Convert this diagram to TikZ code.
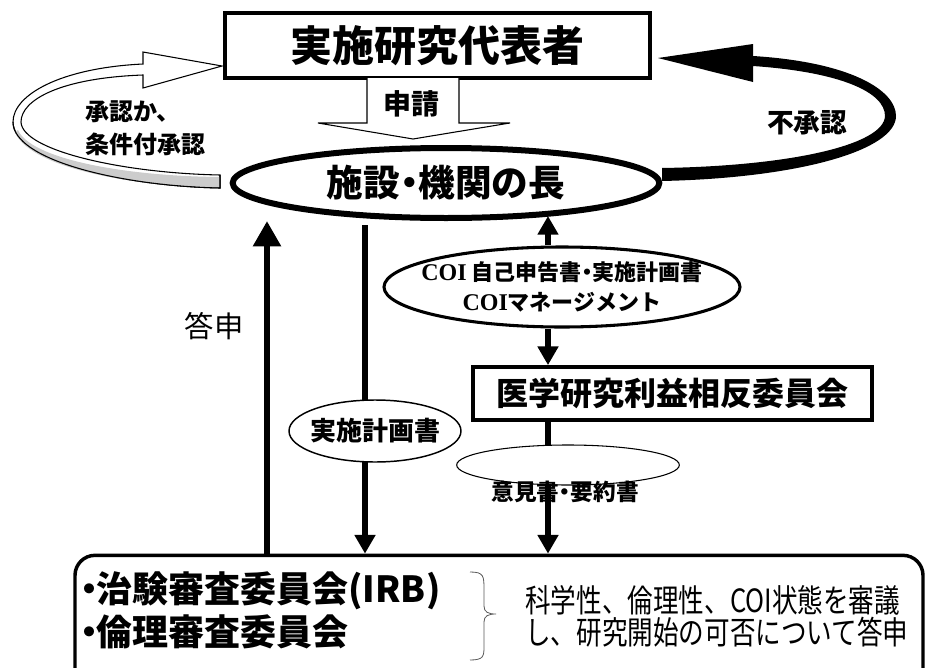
\documentclass[tikz,border=0pt]{standalone}
\usepackage{fontspec}
\newfontfamily\jp{Noto Sans CJK JP}
\newfontfamily\jpc{Noto Sans CJK JP}[FakeStretch=0.8]
\newfontfamily\ser{Liberation Serif}
\usetikzlibrary{arrows.meta,shapes.geometric}
\newcommand{\nkg}{\hspace{-0.25em}・\hspace{-0.25em}}
\tikzset{
  boxnode/.style={draw, line width=2.4pt, inner sep=0pt, fill=white},
  ovalnode/.style={draw, ellipse, inner sep=0pt, fill=white},
  bigarrow/.style={line width=5.2pt, -{Triangle[length=19pt,width=20pt]}},
  midarrow/.style={line width=4pt, -{Triangle[length=14pt,width=15pt]}},
  lbl/.style={font=\jp\bfseries, inner sep=0pt},
}
\begin{document}
\begin{tikzpicture}[x=0.75pt,y=-0.75pt]
\useasboundingbox (0,0) rectangle (926,668);
\fill[white] (0,0) rectangle (926,668);
\clip (0,0) rectangle (926,668);

% main nodes
\node[boxnode, minimum width=318.75pt, minimum height=48.75pt, font=\jp\bfseries\fontsize{31.5pt}{36pt}\selectfont] (rep) at (437.5,45.5) {実施研究代表者};
\node[ovalnode, line width=4.5pt, minimum width=320pt, minimum height=52.5pt] (head) at (446,183) {};
\node[lbl, font=\jp\bfseries\fontsize{27.5pt}{32pt}\selectfont] (headl) at (head.center) {施設\nkg 機関の長};
\node[boxnode, line width=2.6pt, minimum width=299pt, minimum height=40pt, font=\jp\bfseries\fontsize{24pt}{28pt}\selectfont] (med) at (672.5,393.5) {医学研究利益相反委員会};
\node[draw, line width=2.6pt, rounded corners=15pt, minimum width=636pt, minimum height=130pt, inner sep=0pt] (bot) at (499,642) {};

% coordinates for connector ends
\coordinate (xa) at (267,0);
\coordinate (xb) at (365,0);
\coordinate (xc) at (548,0);
\coordinate (pstart) at (365,225);
\coordinate (coitop) at (548,216);

% connectors
\draw[bigarrow] (bot.north -| xa) -- (head.south -| xa);
\draw[midarrow] (pstart) -- (bot.north -| xb);
\draw[midarrow] (med.south -| xc) -- (bot.north -| xc);

% COI ellipse and arrows
\node[ovalnode, line width=2.3pt, minimum width=267pt, minimum height=60pt] (coi) at (562,287) {};
\node[lbl, align=center, font=\jp\bfseries\fontsize{16.5pt}{23pt}\selectfont] (coil) at (coi.center) {{\ser\bfseries\fontsize{18pt}{23pt}\selectfont COI} 自己申告書\nkg 実施計画書\\{\ser\bfseries\fontsize{18pt}{23pt}\selectfont COI}マネージメント};
\draw[midarrow] (coi.north -| xc) -- (coitop);
\draw[midarrow] (coi.south -| xc) -- (med.north -| xc);

% plan ellipse
\node[ovalnode, line width=1.1pt, minimum width=129pt, minimum height=46.5pt] (plan) at (375,431) {};
\node[lbl, font=\jp\bfseries\fontsize{19.5pt}{24pt}\selectfont] (planl) at (plan.center) {実施計画書};

% opinion ellipse and its label
\node[ovalnode, line width=0.8pt, minimum width=167pt, minimum height=30pt] (op) at (568,465) {};
\node[lbl, font=\jp\bfseries\fontsize{17pt}{20pt}\selectfont] (opl) at (565,492) {意見書\nkg 要約書};
\draw[line width=4pt] (op.south -| xc) -- ++(0,22);

% shinsei block arrow
\draw[line width=0.8pt, fill=white] (367,78) -- (367,123) -- (318,123) -- (413,139) -- (510,123) -- (459,123) -- (459,78);
\node[lbl, font=\jp\bfseries\fontsize{21pt}{24pt}\selectfont] (shinsei) at (411,104) {申請};

% left ribbon arrow (approval)
\draw[line width=0.8pt, fill=white]
  (143,64) .. controls (60,68) and (13,95) .. (13,122)
  .. controls (13,160) and (120,186) .. (220,188)
  -- (220,175) .. controls (120,173) and (22,150) .. (21,122)
  .. controls (21,100) and (60,78) .. (143,75) -- (143,88) -- (222,66) -- (143,52) -- cycle;
\fill[gray!40]
  (15,132) .. controls (28,165) and (120,186) .. (219.5,187.2)
  -- (219.5,177) .. controls (120,176) and (30,158) .. (18,130) -- cycle;
\draw[line width=0.8pt]
  (13,122) .. controls (13,160) and (120,186) .. (220,188) -- (220,175);
\node[lbl, align=left, anchor=west, font=\jp\bfseries\fontsize{18pt}{25pt}\selectfont] (appr) at (85,128) {承認か、\\条件付承認};

% right ribbon arrow (disapproval)
\fill[black]
  (662,181) .. controls (800,178) and (896,150) .. (896,116)
  .. controls (896,90) and (850,62) .. (753,56)
  -- (753,44) -- (658,58) -- (753,82) -- (753,66)
  .. controls (840,72) and (885,92) .. (885,116)
  .. controls (884,145) and (790,166) .. (662,168) -- cycle;
\node[lbl, font=\jp\bfseries\fontsize{20pt}{24pt}\selectfont] (dis) at (807,123) {不承認};

% toshin label
\node[inner sep=0pt, font=\jp\fontsize{22pt}{26pt}\selectfont] (toshin) at (214,326) {答申};

% bottom box texts
\node[lbl, align=left, anchor=west, font=\jp\bfseries\fontsize{27pt}{32pt}\selectfont] (irb) at (80,610) {\hspace{-0.25em}・\hspace{-0.3em}治験審査委員会(IRB)\\\hspace{-0.25em}・\hspace{-0.3em}倫理審査委員会};
\draw[line width=0.6pt, gray!70!black] (470,572) .. controls (484,572) and (484,576) .. (484,590) -- (484,606) .. controls (484,612) and (488,614) .. (496,614)
  .. controls (488,614) and (484,616) .. (484,622) -- (484,646) .. controls (484,656) and (484,660) .. (470,660);
\node[inner sep=0pt, align=left, anchor=west, font=\jpc\fontsize{24pt}{24pt}\selectfont] (desc) at (525,616) {科学性、倫理性、COI状態を審議\\し、研究開始の可否について答申};
\end{tikzpicture}
\end{document}
